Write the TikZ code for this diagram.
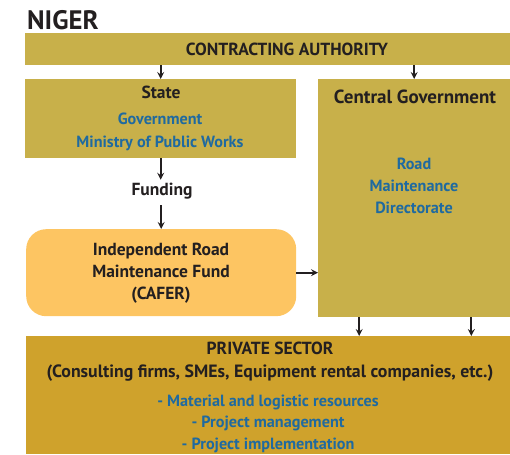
\documentclass[tikz,border=0pt]{standalone}
\usepackage{fontspec}
\setmainfont{PT Sans}
\usetikzlibrary{arrows.meta,calc}
\definecolor{olivegold}{HTML}{C8B04A}
\definecolor{privgold}{HTML}{CFA22C}
\definecolor{caferor}{HTML}{FDC562}
\definecolor{txtblue}{HTML}{1F6AA0}
\definecolor{txtblack}{HTML}{231F20}
\tikzset{
  box/.style={fill=#1, draw=none, inner sep=0pt, anchor=north west},
  lbl/.style={font=\bfseries\fontsize{17.5}{22}\selectfont, text=txtblack, align=center, inner sep=0pt},
  blu/.style={font=\bfseries\fontsize{16.2}{22}\selectfont, text=txtblue, align=center, inner sep=0pt},
  arr/.style={-{Stealth[length=7pt,width=7pt,inset=2.5pt]}, line width=1.8pt, draw=txtblack},
}
\begin{document}
\begin{tikzpicture}[x=1pt,y=-1pt]
\useasboundingbox (0,0) rectangle (510,454);
\node[anchor=west, inner sep=0pt, text=txtblack, font=\bfseries\fontsize{26.7}{26}\selectfont] (title) at (27,20) {NIGER};
% boxes
\node[box=olivegold, minimum width=485pt, minimum height=32pt] (ca) at (25,33) {};
\node[box=olivegold, minimum width=271pt, minimum height=79pt] (state) at (25,79) {};
\node[box=olivegold, minimum width=192pt, minimum height=238pt] (central) at (318,79) {};
\node[box=caferor, minimum width=270pt, minimum height=87pt, rounded corners=20pt] (cafer) at (26,229) {};
\node[box=privgold, minimum width=484pt, minimum height=118pt] (priv) at (26,336) {};
% texts
\node[lbl] (catext) at (287,49) {CONTRACTING AUTHORITY};
\node[lbl] (statetext) at (161,92) {State};
\node[blu, font=\bfseries\fontsize{16.2}{23}\selectfont] (gov) at (160,131.5) {Government\\Ministry of Public Works};
\node[lbl, font=\bfseries\fontsize{19}{22}\selectfont] (centraltext) at (415,97) {Central Government};
\node[blu] (rmd) at (414,186) {Road\\Maintenance\\Directorate};
\node[lbl] (funding) at (162,191) {Funding};
\node[lbl] (cafertext) at (161,273) {Independent Road\\Maintenance Fund\\(CAFER)};
\node[lbl] (privtitle) at (270,348) {PRIVATE SECTOR};
\node[lbl, font=\bfseries\fontsize{17.8}{22}\selectfont] (privsub) at (270,373) {(Consulting firms, SMEs, Equipment rental companies, etc.)};
\node[blu, font=\bfseries\fontsize{16.2}{21.5}\selectfont] (privlist) at (268,423.5) {- Material and logistic resources\\- Project management\\- Project implementation};
% connectors
\draw[arr] (ca.south -| state.north) -- (state.north);
\draw[arr] (ca.south -| central.north) -- (central.north);
\draw[arr] (state.south) -- ($(state.south |- funding.north)+(0,-3)$);
\draw[arr] ($(cafer.north |- funding.south)+(0,6)$) -- (cafer.north);
\draw[arr] (cafer.east) -- (cafer.east -| central.west);
\coordinate (c1) at ($(central.south west)!0.214!(central.south east)$);
\coordinate (c2) at ($(central.south west)!0.797!(central.south east)$);
\draw[arr] (c1) -- (c1 |- priv.north);
\draw[arr] (c2) -- (c2 |- priv.north);
\end{tikzpicture}
\end{document}
